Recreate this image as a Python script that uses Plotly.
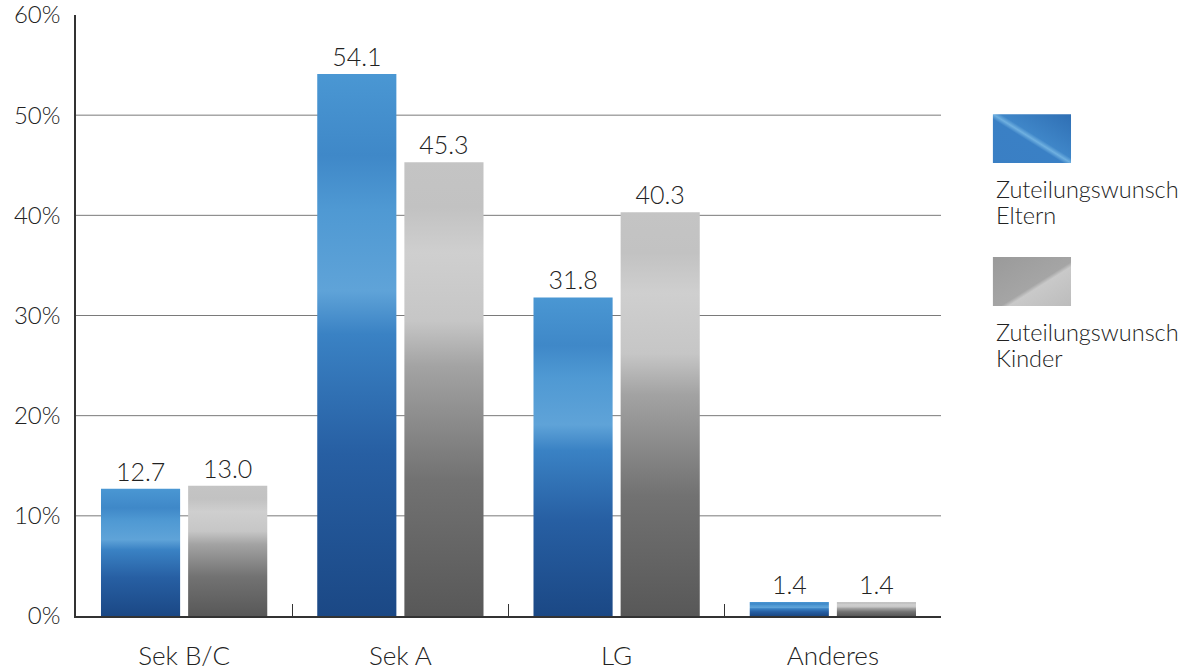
import plotly.graph_objects as go

# Data
categories = ["Sek B/C", "Sek A", "LG", "Anderes"]
eltern = [12.7, 54.1, 31.8, 1.4]
kinder = [13.0, 45.3, 40.3, 1.4]
legend_lines = [["Zuteilungswunsch", "Eltern"], ["Zuteilungswunsch", "Kinder"]]
series_names = [" ".join(l) for l in legend_lines]
y_ticks = [0, 10, 20, 30, 40, 50, 60]
y_ticktext = [f"{v}%" for v in y_ticks]
grid_values = [10, 20, 30, 40, 50]

FONT = "Lato, 'Open Sans', sans-serif"
TEXT = "#222222"
BLUE = "rgb(61,127,194)"
GRAY = "rgb(168,168,168)"

fig = go.Figure()
for name, vals, col in [(series_names[0], eltern, BLUE), (series_names[1], kinder, GRAY)]:
    fig.add_trace(go.Bar(
        x=categories, y=vals, name=name,
        marker=dict(color=col, line=dict(width=0)),
        text=[f"{v:.1f}" for v in vals],
        textposition="outside",
        textfont=dict(size=25, color=TEXT, family=FONT, weight=300),
        cliponaxis=False,
        showlegend=False,
    ))

# horizontal grid lines (none at the top tick)
for g in grid_values:
    fig.add_shape(type="line", xref="paper", yref="y", x0=0, x1=1, y0=g, y1=g,
                  line=dict(color="#7a7a7a", width=1), layer="below")

# legend: swatch above, two label lines below
legend_items = [
    (BLUE, 0.835, 0.7537, 0.711, legend_lines[0]),
    (GRAY, 0.5973, 0.5158, 0.473, legend_lines[1]),
]
line_step = 26 / 601
for col, ytop, ybot, ytext, lines in legend_items:
    fig.add_shape(type="rect", xref="paper", yref="paper",
                  x0=1.060, x1=1.1503, y0=ybot, y1=ytop,
                  fillcolor=col, line=dict(width=0))
    for k, line in enumerate(lines):
        fig.add_annotation(xref="paper", yref="paper", x=1.0615, y=ytext - k * line_step,
                           xanchor="left", yanchor="middle", align="left",
                           text=line, showarrow=False,
                           font=dict(size=23.5, color=TEXT, family=FONT, weight=300))

fig.update_layout(
    width=1185, height=670,
    margin=dict(l=76, r=244, t=15, b=54),
    paper_bgcolor="white", plot_bgcolor="white",
    barmode="group", bargap=0.194, bargroupgap=0.092,
    font=dict(family=FONT, color=TEXT, size=24),
    xaxis=dict(
        automargin=False,
        showline=True, linecolor="#333333", linewidth=1.5,
        ticks="inside", ticklen=12, tickwidth=1.2, tickcolor="#333333",
        tickson="boundaries", showgrid=False,
        tickfont=dict(size=26, color=TEXT, family=FONT, weight=300),
        ticklabelstandoff=16,
    ),
    yaxis=dict(
        automargin=False,
        range=[0, 60], tickvals=y_ticks, ticktext=y_ticktext,
        showline=True, linecolor="#333333", linewidth=1.5,
        showgrid=False, zeroline=False, ticks="",
        tickfont=dict(size=24, color=TEXT, family=FONT, weight=300),
        ticklabelstandoff=9, ticklabeloverflow="allow",
    ),
)

# vertical gradient fills for the bars and diagonal ones for the legend swatches
post_js = r"""
var gd = document.getElementById('{plot_id}');
function styleBars(){
  var svg = gd.querySelector('svg.main-svg');
  if(!svg) return;
  var ns = 'http://www.w3.org/2000/svg';
  var defs = svg.querySelector('defs');
  if(!defs){ defs = document.createElementNS(ns,'defs'); svg.insertBefore(defs, svg.firstChild); }
  function grad(id, x1,y1,x2,y2, stops){
    if(document.getElementById(id)) return;
    var g = document.createElementNS(ns,'linearGradient');
    g.setAttribute('id', id);
    g.setAttribute('x1',x1); g.setAttribute('y1',y1);
    g.setAttribute('x2',x2); g.setAttribute('y2',y2);
    stops.forEach(function(s){
      var st = document.createElementNS(ns,'stop');
      st.setAttribute('offset', s[0]); st.setAttribute('stop-color', s[1]);
      g.appendChild(st);
    });
    defs.appendChild(g);
  }
  grad('gBlueV','0','1','0','0',[[0,'#1b4885'],[0.3,'#275fa3'],[0.52,'#3a82c4'],[0.6,'#5fa3d8'],[0.75,'#4f99d3'],[0.85,'#3f88c8'],[1,'#4a97d3']]);
  grad('gGrayV','0','1','0','0',[[0,'#585858'],[0.3,'#727272'],[0.55,'#a3a3a3'],[0.65,'#c6c6c6'],[0.8,'#cfcfcf'],[0.9,'#c2c2c2'],[1,'#c4c4c4']]);
  grad('gBlueD','0','1','1','0',[[0,'#3a7fc4'],[0.45,'#3a80c5'],[0.5,'#6fb0e0'],[0.55,'#3f86c8'],[1,'#2f6fb4']]);
  grad('gGrayD','0','0','1','1',[[0,'#9a9a9a'],[0.55,'#a5a5a5'],[0.6,'#c9c9c9'],[1,'#bcbcbc']]);
  var traces = gd.querySelectorAll('.barlayer .trace');
  traces.forEach(function(t, i){
    t.querySelectorAll('path').forEach(function(p){
      p.style.fill = (i === 0) ? 'url(#gBlueV)' : 'url(#gGrayV)';
    });
  });
  gd.querySelectorAll('.shapelayer path').forEach(function(p){
    var f = p.style.fill.replace(/\s/g,'');
    if(f === 'rgb(61,127,194)') p.style.fill = 'url(#gBlueD)';
    if(f === 'rgb(168,168,168)') p.style.fill = 'url(#gGrayD)';
  });
}
styleBars();
gd.on('plotly_afterplot', styleBars);
"""

fig.write_html("out.html", post_script=post_js)
